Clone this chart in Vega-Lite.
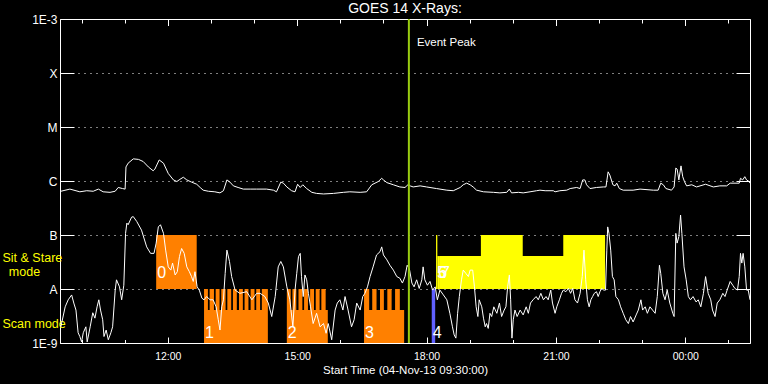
{
"$schema": "https://vega.github.io/schema/vega-lite/v6.json",
"width": 690, "height": 324,
"autosize": "none",
"padding": {"left": 60, "top": 19, "right": 18, "bottom": 41},
"background": "black",
"config": {
 "view": {"stroke": "white", "strokeWidth": 1},
 "font": "Liberation Sans",
 "axis": {"labelFont": "Liberation Sans", "titleFont": "Liberation Sans", "tickColor": "white", "labelColor": "white", "titleColor": "white", "domain": false, "grid": false, "tickWidth": 1, "labelFlush": false, "labelOverlap": false}
},
"title": {"text": "GOES 14 X-Rays:", "color": "white", "fontSize": 14, "fontWeight": "normal", "font": "Liberation Sans", "anchor": "middle", "baseline": "alphabetic", "offset": -14},
"datasets": {
 "event": [{"hour": 17.59, "label": "Event Peak"}],
 "boxes": [
  {"h0": 11.73, "h1": 12.67, "l0": -8, "l1": -7, "group": "g1", "label": "0", "mode": "sit"},
  {"h0": 12.84, "h1": 14.32, "l0": -9, "l1": -8.39, "group": "g1", "label": "1", "mode": "scan"},
  {"h0": 12.84, "h1": 12.93, "l0": -8.39, "l1": -8, "group": "g1"},
  {"h0": 12.97, "h1": 13.07, "l0": -8.39, "l1": -8, "group": "g1"},
  {"h0": 13.11, "h1": 13.2, "l0": -8.39, "l1": -8, "group": "g1"},
  {"h0": 13.24, "h1": 13.34, "l0": -8.39, "l1": -8, "group": "g1"},
  {"h0": 13.38, "h1": 13.47, "l0": -8.39, "l1": -8, "group": "g1"},
  {"h0": 13.51, "h1": 13.6, "l0": -8.39, "l1": -8, "group": "g1"},
  {"h0": 13.65, "h1": 13.74, "l0": -8.39, "l1": -8, "group": "g1"},
  {"h0": 13.78, "h1": 13.87, "l0": -8.39, "l1": -8, "group": "g1"},
  {"h0": 13.92, "h1": 14.01, "l0": -8.39, "l1": -8, "group": "g1"},
  {"h0": 14.05, "h1": 14.14, "l0": -8.39, "l1": -8, "group": "g1"},
  {"h0": 14.18, "h1": 14.32, "l0": -8.39, "l1": -8, "group": "g1"},
  {"h0": 14.76, "h1": 15.71, "l0": -9, "l1": -8.39, "group": "g1", "label": "2", "mode": "scan"},
  {"h0": 14.76, "h1": 14.85, "l0": -8.39, "l1": -8, "group": "g1"},
  {"h0": 14.89, "h1": 14.98, "l0": -8.39, "l1": -8, "group": "g1"},
  {"h0": 15.03, "h1": 15.12, "l0": -8.39, "l1": -8, "group": "g1"},
  {"h0": 15.16, "h1": 15.25, "l0": -8.39, "l1": -8, "group": "g1"},
  {"h0": 15.3, "h1": 15.39, "l0": -8.39, "l1": -8, "group": "g1"},
  {"h0": 15.43, "h1": 15.52, "l0": -8.39, "l1": -8, "group": "g1"},
  {"h0": 15.56, "h1": 15.66, "l0": -8.39, "l1": -8, "group": "g1"},
  {"h0": 16.55, "h1": 17.48, "l0": -9, "l1": -8.39, "group": "g1", "label": "3", "mode": "scan"},
  {"h0": 16.55, "h1": 16.67, "l0": -8.39, "l1": -8, "group": "g1"},
  {"h0": 16.74, "h1": 16.84, "l0": -8.39, "l1": -8, "group": "g1"},
  {"h0": 16.92, "h1": 17.01, "l0": -8.39, "l1": -8, "group": "g1"},
  {"h0": 17.09, "h1": 17.19, "l0": -8.39, "l1": -8, "group": "g1"},
  {"h0": 17.27, "h1": 17.38, "l0": -8.39, "l1": -8, "group": "g1"},
  {"h0": 18.12, "h1": 18.2, "l0": -9, "l1": -8, "group": "g2", "label": "4", "mode": "scan"},
  {"h0": 18.22, "h1": 18.25, "l0": -8, "l1": -7, "group": "g3", "label": "5", "mode": "sit"},
  {"h0": 18.25, "h1": 18.31, "l0": -8, "l1": -7.39, "group": "g3", "label": "6", "mode": "sit"},
  {"h0": 18.31, "h1": 22.14, "l0": -8, "l1": -7.39, "group": "g3", "label": "7", "mode": "sit"},
  {"h0": 19.26, "h1": 20.23, "l0": -7.39, "l1": -7, "group": "g3"},
  {"h0": 21.17, "h1": 22.14, "l0": -7.39, "l1": -7, "group": "g3"}
 ],
 "flux": [
  {"hour":9.52,"logflux":-6.19,"channel":"long"},{"hour":9.73,"logflux":-6.15,"channel":"long"},{"hour":9.96,"logflux":-6.2,"channel":"long"},{"hour":10.12,"logflux":-6.18,"channel":"long"},{"hour":10.27,"logflux":-6.19,"channel":"long"},{"hour":10.39,"logflux":-6.15,"channel":"long"},{"hour":10.5,"logflux":-6.2,"channel":"long"},{"hour":10.66,"logflux":-6.21,"channel":"long"},{"hour":10.78,"logflux":-6.19,"channel":"long"},{"hour":10.85,"logflux":-6.12,"channel":"long"},{"hour":10.95,"logflux":-6.14,"channel":"long"},{"hour":11.01,"logflux":-6.15,"channel":"long"},{"hour":11.03,"logflux":-5.74,"channel":"long"},{"hour":11.08,"logflux":-5.67,"channel":"long"},{"hour":11.2,"logflux":-5.59,"channel":"long"},{"hour":11.32,"logflux":-5.6,"channel":"long"},{"hour":11.43,"logflux":-5.64,"channel":"long"},{"hour":11.55,"logflux":-5.74,"channel":"long"},{"hour":11.66,"logflux":-5.81,"channel":"long"},{"hour":11.7,"logflux":-5.78,"channel":"long"},{"hour":11.8,"logflux":-5.61,"channel":"long"},{"hour":11.9,"logflux":-5.67,"channel":"long"},{"hour":12.01,"logflux":-5.86,"channel":"long"},{"hour":12.13,"logflux":-5.98,"channel":"long"},{"hour":12.21,"logflux":-6.01,"channel":"long"},{"hour":12.28,"logflux":-5.97,"channel":"long"},{"hour":12.36,"logflux":-5.93,"channel":"long"},{"hour":12.44,"logflux":-5.98,"channel":"long"},{"hour":12.55,"logflux":-6.02,"channel":"long"},{"hour":12.67,"logflux":-6.06,"channel":"long"},{"hour":12.75,"logflux":-6.12,"channel":"long"},{"hour":12.82,"logflux":-6.17,"channel":"long"},{"hour":12.94,"logflux":-6.19,"channel":"long"},{"hour":13.09,"logflux":-6.2,"channel":"long"},{"hour":13.21,"logflux":-6.22,"channel":"long"},{"hour":13.29,"logflux":-6.18,"channel":"long"},{"hour":13.37,"logflux":-5.98,"channel":"long"},{"hour":13.44,"logflux":-6.02,"channel":"long"},{"hour":13.52,"logflux":-6.09,"channel":"long"},{"hour":13.63,"logflux":-6.12,"channel":"long"},{"hour":13.75,"logflux":-6.15,"channel":"long"},{"hour":13.91,"logflux":-6.15,"channel":"long"},{"hour":14.06,"logflux":-6.15,"channel":"long"},{"hour":14.29,"logflux":-6.15,"channel":"long"},{"hour":14.45,"logflux":-6.17,"channel":"long"},{"hour":14.52,"logflux":-6.2,"channel":"long"},{"hour":14.62,"logflux":-6.02,"channel":"long"},{"hour":14.68,"logflux":-6.04,"channel":"long"},{"hour":14.76,"logflux":-6.11,"channel":"long"},{"hour":14.87,"logflux":-6.18,"channel":"long"},{"hour":14.95,"logflux":-6.2,"channel":"long"},{"hour":15.01,"logflux":-6.06,"channel":"long"},{"hour":15.07,"logflux":-6.12,"channel":"long"},{"hour":15.13,"logflux":-6.07,"channel":"long"},{"hour":15.22,"logflux":-6.14,"channel":"long"},{"hour":15.34,"logflux":-6.21,"channel":"long"},{"hour":15.45,"logflux":-6.23,"channel":"long"},{"hour":15.61,"logflux":-6.24,"channel":"long"},{"hour":15.84,"logflux":-6.23,"channel":"long"},{"hour":16.07,"logflux":-6.21,"channel":"long"},{"hour":16.22,"logflux":-6.2,"channel":"long"},{"hour":16.46,"logflux":-6.21,"channel":"long"},{"hour":16.61,"logflux":-6.2,"channel":"long"},{"hour":16.73,"logflux":-6.07,"channel":"long"},{"hour":16.88,"logflux":-6.01,"channel":"long"},{"hour":16.96,"logflux":-5.95,"channel":"long"},{"hour":17.0,"logflux":-5.98,"channel":"long"},{"hour":17.08,"logflux":-6.03,"channel":"long"},{"hour":17.23,"logflux":-6.07,"channel":"long"},{"hour":17.38,"logflux":-6.11,"channel":"long"},{"hour":17.5,"logflux":-6.12,"channel":"long"},{"hour":17.58,"logflux":-6.06,"channel":"long"},{"hour":17.62,"logflux":-6.09,"channel":"long"},{"hour":17.69,"logflux":-6.11,"channel":"long"},{"hour":17.85,"logflux":-6.09,"channel":"long"},{"hour":18.0,"logflux":-6.11,"channel":"long"},{"hour":18.23,"logflux":-6.14,"channel":"long"},{"hour":18.47,"logflux":-6.17,"channel":"long"},{"hour":18.62,"logflux":-6.18,"channel":"long"},{"hour":18.78,"logflux":-6.12,"channel":"long"},{"hour":18.85,"logflux":-6.07,"channel":"long"},{"hour":18.93,"logflux":-6.04,"channel":"long"},{"hour":19.01,"logflux":-6.07,"channel":"long"},{"hour":19.08,"logflux":-6.11,"channel":"long"},{"hour":19.16,"logflux":-6.17,"channel":"long"},{"hour":19.32,"logflux":-6.2,"channel":"long"},{"hour":19.55,"logflux":-6.21,"channel":"long"},{"hour":19.7,"logflux":-6.22,"channel":"long"},{"hour":19.86,"logflux":-6.21,"channel":"long"},{"hour":19.92,"logflux":-6.15,"channel":"long"},{"hour":19.97,"logflux":-6.22,"channel":"long"},{"hour":20.13,"logflux":-6.21,"channel":"long"},{"hour":20.24,"logflux":-6.22,"channel":"long"},{"hour":20.4,"logflux":-6.2,"channel":"long"},{"hour":20.55,"logflux":-6.18,"channel":"long"},{"hour":20.63,"logflux":-6.17,"channel":"long"},{"hour":20.75,"logflux":-6.18,"channel":"long"},{"hour":20.94,"logflux":-6.18,"channel":"long"},{"hour":20.98,"logflux":-6.2,"channel":"long"},{"hour":21.09,"logflux":-6.18,"channel":"long"},{"hour":21.25,"logflux":-6.17,"channel":"long"},{"hour":21.33,"logflux":-6.14,"channel":"long"},{"hour":21.48,"logflux":-6.12,"channel":"long"},{"hour":21.56,"logflux":-6.14,"channel":"long"},{"hour":21.62,"logflux":-5.98,"channel":"long"},{"hour":21.67,"logflux":-5.98,"channel":"long"},{"hour":21.71,"logflux":-6.07,"channel":"long"},{"hour":21.79,"logflux":-6.14,"channel":"long"},{"hour":21.94,"logflux":-6.12,"channel":"long"},{"hour":22.1,"logflux":-6.11,"channel":"long"},{"hour":22.16,"logflux":-6.11,"channel":"long"},{"hour":22.21,"logflux":-5.83,"channel":"long"},{"hour":22.25,"logflux":-5.89,"channel":"long"},{"hour":22.32,"logflux":-6.07,"channel":"long"},{"hour":22.37,"logflux":-6.09,"channel":"long"},{"hour":22.41,"logflux":-6.04,"channel":"long"},{"hour":22.47,"logflux":-6.14,"channel":"long"},{"hour":22.56,"logflux":-6.17,"channel":"long"},{"hour":22.79,"logflux":-6.17,"channel":"long"},{"hour":22.95,"logflux":-6.15,"channel":"long"},{"hour":23.26,"logflux":-6.17,"channel":"long"},{"hour":23.37,"logflux":-6.17,"channel":"long"},{"hour":23.43,"logflux":-6.04,"channel":"long"},{"hour":23.49,"logflux":-6.07,"channel":"long"},{"hour":23.55,"logflux":-6.14,"channel":"long"},{"hour":23.68,"logflux":-6.17,"channel":"long"},{"hour":23.74,"logflux":-6.11,"channel":"long"},{"hour":23.78,"logflux":-5.76,"channel":"long"},{"hour":23.81,"logflux":-5.78,"channel":"long"},{"hour":23.85,"logflux":-5.98,"channel":"long"},{"hour":23.9,"logflux":-5.72,"channel":"long"},{"hour":23.94,"logflux":-5.92,"channel":"long"},{"hour":23.98,"logflux":-6.01,"channel":"long"},{"hour":24.03,"logflux":-6.09,"channel":"long"},{"hour":24.15,"logflux":-6.07,"channel":"long"},{"hour":24.26,"logflux":-6.11,"channel":"long"},{"hour":24.47,"logflux":-6.06,"channel":"long"},{"hour":24.65,"logflux":-6.11,"channel":"long"},{"hour":24.8,"logflux":-6.09,"channel":"long"},{"hour":24.96,"logflux":-6.09,"channel":"long"},{"hour":25.04,"logflux":-6.04,"channel":"long"},{"hour":25.25,"logflux":-6.04,"channel":"long"},{"hour":25.28,"logflux":-5.95,"channel":"long"},{"hour":25.33,"logflux":-5.98,"channel":"long"},{"hour":25.38,"logflux":-5.92,"channel":"long"},{"hour":25.42,"logflux":-5.98,"channel":"long"},{"hour":25.48,"logflux":-6.01,"channel":"long"},{"hour":25.5,"logflux":-6.04,"channel":"long"},
  {"hour":9.52,"logflux":-8.7,"channel":"short"},{"hour":9.62,"logflux":-8.33,"channel":"short"},{"hour":9.69,"logflux":-8.2,"channel":"short"},{"hour":9.77,"logflux":-8.11,"channel":"short"},{"hour":9.82,"logflux":-8.26,"channel":"short"},{"hour":9.87,"logflux":-8.39,"channel":"short"},{"hour":9.92,"logflux":-8.81,"channel":"short"},{"hour":9.96,"logflux":-8.88,"channel":"short"},{"hour":10.0,"logflux":-8.98,"channel":"short"},{"hour":10.04,"logflux":-8.81,"channel":"short"},{"hour":10.1,"logflux":-8.7,"channel":"short"},{"hour":10.13,"logflux":-8.98,"channel":"short"},{"hour":10.2,"logflux":-8.7,"channel":"short"},{"hour":10.26,"logflux":-8.44,"channel":"short"},{"hour":10.31,"logflux":-8.54,"channel":"short"},{"hour":10.36,"logflux":-8.33,"channel":"short"},{"hour":10.4,"logflux":-8.2,"channel":"short"},{"hour":10.44,"logflux":-8.39,"channel":"short"},{"hour":10.49,"logflux":-8.57,"channel":"short"},{"hour":10.52,"logflux":-8.88,"channel":"short"},{"hour":10.57,"logflux":-8.76,"channel":"short"},{"hour":10.62,"logflux":-8.94,"channel":"short"},{"hour":10.68,"logflux":-8.81,"channel":"short"},{"hour":10.72,"logflux":-8.7,"channel":"short"},{"hour":10.78,"logflux":-8.02,"channel":"short"},{"hour":10.81,"logflux":-7.83,"channel":"short"},{"hour":10.88,"logflux":-7.96,"channel":"short"},{"hour":10.93,"logflux":-8.2,"channel":"short"},{"hour":10.98,"logflux":-7.93,"channel":"short"},{"hour":11.02,"logflux":-6.97,"channel":"short"},{"hour":11.05,"logflux":-6.78,"channel":"short"},{"hour":11.08,"logflux":-6.81,"channel":"short"},{"hour":11.16,"logflux":-6.67,"channel":"short"},{"hour":11.2,"logflux":-6.66,"channel":"short"},{"hour":11.28,"logflux":-6.75,"channel":"short"},{"hour":11.39,"logflux":-6.91,"channel":"short"},{"hour":11.51,"logflux":-7.22,"channel":"short"},{"hour":11.6,"logflux":-7.34,"channel":"short"},{"hour":11.68,"logflux":-7.34,"channel":"short"},{"hour":11.73,"logflux":-7.15,"channel":"short"},{"hour":11.78,"logflux":-6.85,"channel":"short"},{"hour":11.83,"logflux":-6.81,"channel":"short"},{"hour":11.9,"logflux":-6.97,"channel":"short"},{"hour":11.95,"logflux":-7.28,"channel":"short"},{"hour":12.01,"logflux":-7.59,"channel":"short"},{"hour":12.07,"logflux":-7.65,"channel":"short"},{"hour":12.11,"logflux":-7.52,"channel":"short"},{"hour":12.17,"logflux":-7.74,"channel":"short"},{"hour":12.22,"logflux":-7.68,"channel":"short"},{"hour":12.27,"logflux":-7.4,"channel":"short"},{"hour":12.32,"logflux":-7.25,"channel":"short"},{"hour":12.38,"logflux":-7.34,"channel":"short"},{"hour":12.44,"logflux":-7.59,"channel":"short"},{"hour":12.5,"logflux":-7.68,"channel":"short"},{"hour":12.55,"logflux":-7.77,"channel":"short"},{"hour":12.59,"logflux":-7.86,"channel":"short"},{"hour":12.63,"logflux":-7.68,"channel":"short"},{"hour":12.68,"logflux":-7.96,"channel":"short"},{"hour":12.73,"logflux":-8.02,"channel":"short"},{"hour":12.79,"logflux":-8.17,"channel":"short"},{"hour":12.84,"logflux":-8.2,"channel":"short"},{"hour":12.9,"logflux":-8.14,"channel":"short"},{"hour":12.98,"logflux":-8.2,"channel":"short"},{"hour":13.05,"logflux":-8.2,"channel":"short"},{"hour":13.12,"logflux":-8.33,"channel":"short"},{"hour":13.17,"logflux":-8.57,"channel":"short"},{"hour":13.21,"logflux":-8.76,"channel":"short"},{"hour":13.25,"logflux":-8.33,"channel":"short"},{"hour":13.29,"logflux":-8.2,"channel":"short"},{"hour":13.33,"logflux":-7.71,"channel":"short"},{"hour":13.37,"logflux":-7.28,"channel":"short"},{"hour":13.43,"logflux":-7.49,"channel":"short"},{"hour":13.48,"logflux":-7.77,"channel":"short"},{"hour":13.56,"logflux":-8.02,"channel":"short"},{"hour":13.67,"logflux":-8.08,"channel":"short"},{"hour":13.83,"logflux":-8.05,"channel":"short"},{"hour":13.95,"logflux":-8.2,"channel":"short"},{"hour":14.06,"logflux":-8.08,"channel":"short"},{"hour":14.14,"logflux":-8.08,"channel":"short"},{"hour":14.25,"logflux":-8.14,"channel":"short"},{"hour":14.33,"logflux":-8.26,"channel":"short"},{"hour":14.41,"logflux":-8.51,"channel":"short"},{"hour":14.49,"logflux":-8.14,"channel":"short"},{"hour":14.56,"logflux":-7.59,"channel":"short"},{"hour":14.62,"logflux":-7.49,"channel":"short"},{"hour":14.68,"logflux":-7.59,"channel":"short"},{"hour":14.76,"logflux":-7.96,"channel":"short"},{"hour":14.83,"logflux":-8.2,"channel":"short"},{"hour":14.9,"logflux":-8.7,"channel":"short"},{"hour":14.95,"logflux":-8.02,"channel":"short"},{"hour":14.99,"logflux":-7.71,"channel":"short"},{"hour":15.03,"logflux":-7.4,"channel":"short"},{"hour":15.07,"logflux":-7.34,"channel":"short"},{"hour":15.1,"logflux":-7.77,"channel":"short"},{"hour":15.14,"logflux":-8.14,"channel":"short"},{"hour":15.18,"logflux":-7.74,"channel":"short"},{"hour":15.22,"logflux":-7.83,"channel":"short"},{"hour":15.26,"logflux":-8.08,"channel":"short"},{"hour":15.31,"logflux":-8.33,"channel":"short"},{"hour":15.37,"logflux":-8.64,"channel":"short"},{"hour":15.45,"logflux":-8.45,"channel":"short"},{"hour":15.53,"logflux":-8.7,"channel":"short"},{"hour":15.61,"logflux":-8.64,"channel":"short"},{"hour":15.67,"logflux":-8.82,"channel":"short"},{"hour":15.72,"logflux":-8.64,"channel":"short"},{"hour":15.8,"logflux":-8.94,"channel":"short"},{"hour":15.88,"logflux":-8.39,"channel":"short"},{"hour":15.93,"logflux":-8.26,"channel":"short"},{"hour":15.99,"logflux":-8.2,"channel":"short"},{"hour":16.06,"logflux":-8.39,"channel":"short"},{"hour":16.11,"logflux":-8.14,"channel":"short"},{"hour":16.18,"logflux":-8.39,"channel":"short"},{"hour":16.26,"logflux":-8.7,"channel":"short"},{"hour":16.32,"logflux":-8.57,"channel":"short"},{"hour":16.38,"logflux":-8.26,"channel":"short"},{"hour":16.46,"logflux":-8.39,"channel":"short"},{"hour":16.52,"logflux":-8.14,"channel":"short"},{"hour":16.57,"logflux":-8.08,"channel":"short"},{"hour":16.63,"logflux":-7.96,"channel":"short"},{"hour":16.69,"logflux":-7.77,"channel":"short"},{"hour":16.76,"logflux":-7.59,"channel":"short"},{"hour":16.84,"logflux":-7.37,"channel":"short"},{"hour":16.92,"logflux":-7.31,"channel":"short"},{"hour":16.96,"logflux":-7.22,"channel":"short"},{"hour":17.0,"logflux":-7.37,"channel":"short"},{"hour":17.08,"logflux":-7.46,"channel":"short"},{"hour":17.15,"logflux":-7.56,"channel":"short"},{"hour":17.23,"logflux":-7.65,"channel":"short"},{"hour":17.31,"logflux":-7.77,"channel":"short"},{"hour":17.38,"logflux":-7.8,"channel":"short"},{"hour":17.44,"logflux":-7.89,"channel":"short"},{"hour":17.5,"logflux":-7.77,"channel":"short"},{"hour":17.55,"logflux":-7.56,"channel":"short"},{"hour":17.6,"logflux":-7.62,"channel":"short"},{"hour":17.66,"logflux":-7.89,"channel":"short"},{"hour":17.71,"logflux":-7.96,"channel":"short"},{"hour":17.77,"logflux":-7.83,"channel":"short"},{"hour":17.83,"logflux":-7.99,"channel":"short"},{"hour":17.89,"logflux":-7.83,"channel":"short"},{"hour":17.92,"logflux":-7.59,"channel":"short"},{"hour":17.96,"logflux":-7.83,"channel":"short"},{"hour":18.02,"logflux":-7.93,"channel":"short"},{"hour":18.08,"logflux":-7.86,"channel":"short"},{"hour":18.14,"logflux":-8.02,"channel":"short"},{"hour":18.2,"logflux":-7.96,"channel":"short"},{"hour":18.25,"logflux":-8.2,"channel":"short"},{"hour":18.31,"logflux":-8.02,"channel":"short"},{"hour":18.39,"logflux":-8.11,"channel":"short"},{"hour":18.47,"logflux":-8.2,"channel":"short"},{"hour":18.54,"logflux":-8.45,"channel":"short"},{"hour":18.6,"logflux":-8.7,"channel":"short"},{"hour":18.64,"logflux":-8.85,"channel":"short"},{"hour":18.68,"logflux":-8.91,"channel":"short"},{"hour":18.72,"logflux":-8.45,"channel":"short"},{"hour":18.76,"logflux":-8.14,"channel":"short"},{"hour":18.81,"logflux":-7.83,"channel":"short"},{"hour":18.85,"logflux":-7.65,"channel":"short"},{"hour":18.91,"logflux":-7.71,"channel":"short"},{"hour":18.97,"logflux":-7.77,"channel":"short"},{"hour":19.01,"logflux":-7.65,"channel":"short"},{"hour":19.07,"logflux":-7.65,"channel":"short"},{"hour":19.11,"logflux":-7.96,"channel":"short"},{"hour":19.15,"logflux":-8.33,"channel":"short"},{"hour":19.19,"logflux":-8.51,"channel":"short"},{"hour":19.22,"logflux":-8.2,"channel":"short"},{"hour":19.28,"logflux":-8.33,"channel":"short"},{"hour":19.32,"logflux":-8.54,"channel":"short"},{"hour":19.36,"logflux":-8.7,"channel":"short"},{"hour":19.39,"logflux":-8.64,"channel":"short"},{"hour":19.43,"logflux":-8.73,"channel":"short"},{"hour":19.47,"logflux":-8.45,"channel":"short"},{"hour":19.51,"logflux":-8.51,"channel":"short"},{"hour":19.56,"logflux":-8.33,"channel":"short"},{"hour":19.63,"logflux":-8.45,"channel":"short"},{"hour":19.69,"logflux":-8.26,"channel":"short"},{"hour":19.74,"logflux":-8.51,"channel":"short"},{"hour":19.8,"logflux":-8.39,"channel":"short"},{"hour":19.84,"logflux":-8.33,"channel":"short"},{"hour":19.88,"logflux":-7.96,"channel":"short"},{"hour":19.92,"logflux":-7.74,"channel":"short"},{"hour":19.95,"logflux":-8.2,"channel":"short"},{"hour":19.98,"logflux":-8.91,"channel":"short"},{"hour":20.01,"logflux":-8.57,"channel":"short"},{"hour":20.05,"logflux":-8.39,"channel":"short"},{"hour":20.1,"logflux":-8.51,"channel":"short"},{"hour":20.17,"logflux":-8.39,"channel":"short"},{"hour":20.24,"logflux":-8.48,"channel":"short"},{"hour":20.31,"logflux":-8.33,"channel":"short"},{"hour":20.36,"logflux":-8.45,"channel":"short"},{"hour":20.41,"logflux":-8.26,"channel":"short"},{"hour":20.47,"logflux":-8.2,"channel":"short"},{"hour":20.54,"logflux":-8.14,"channel":"short"},{"hour":20.59,"logflux":-8.2,"channel":"short"},{"hour":20.65,"logflux":-8.08,"channel":"short"},{"hour":20.71,"logflux":-8.2,"channel":"short"},{"hour":20.77,"logflux":-8.14,"channel":"short"},{"hour":20.82,"logflux":-8.2,"channel":"short"},{"hour":20.88,"logflux":-8.02,"channel":"short"},{"hour":20.92,"logflux":-8.26,"channel":"short"},{"hour":20.98,"logflux":-8.45,"channel":"short"},{"hour":21.02,"logflux":-8.33,"channel":"short"},{"hour":21.08,"logflux":-8.2,"channel":"short"},{"hour":21.13,"logflux":-8.08,"channel":"short"},{"hour":21.17,"logflux":-8.02,"channel":"short"},{"hour":21.23,"logflux":-8.05,"channel":"short"},{"hour":21.29,"logflux":-7.99,"channel":"short"},{"hour":21.34,"logflux":-8.08,"channel":"short"},{"hour":21.39,"logflux":-7.99,"channel":"short"},{"hour":21.44,"logflux":-8.2,"channel":"short"},{"hour":21.5,"logflux":-8.26,"channel":"short"},{"hour":21.56,"logflux":-8.08,"channel":"short"},{"hour":21.61,"logflux":-7.77,"channel":"short"},{"hour":21.65,"logflux":-7.28,"channel":"short"},{"hour":21.69,"logflux":-7.83,"channel":"short"},{"hour":21.73,"logflux":-8.2,"channel":"short"},{"hour":21.77,"logflux":-8.33,"channel":"short"},{"hour":21.81,"logflux":-8.2,"channel":"short"},{"hour":21.85,"logflux":-8.14,"channel":"short"},{"hour":21.89,"logflux":-8.08,"channel":"short"},{"hour":21.94,"logflux":-8.05,"channel":"short"},{"hour":21.98,"logflux":-8.14,"channel":"short"},{"hour":22.02,"logflux":-8.05,"channel":"short"},{"hour":22.06,"logflux":-7.99,"channel":"short"},{"hour":22.11,"logflux":-8.02,"channel":"short"},{"hour":22.15,"logflux":-8.02,"channel":"short"},{"hour":22.18,"logflux":-7.28,"channel":"short"},{"hour":22.2,"logflux":-6.85,"channel":"short"},{"hour":22.23,"logflux":-6.97,"channel":"short"},{"hour":22.27,"logflux":-7.28,"channel":"short"},{"hour":22.31,"logflux":-7.77,"channel":"short"},{"hour":22.35,"logflux":-7.83,"channel":"short"},{"hour":22.39,"logflux":-8.14,"channel":"short"},{"hour":22.45,"logflux":-8.2,"channel":"short"},{"hour":22.5,"logflux":-8.33,"channel":"short"},{"hour":22.56,"logflux":-8.45,"channel":"short"},{"hour":22.62,"logflux":-8.57,"channel":"short"},{"hour":22.68,"logflux":-8.64,"channel":"short"},{"hour":22.73,"logflux":-8.51,"channel":"short"},{"hour":22.79,"logflux":-8.61,"channel":"short"},{"hour":22.86,"logflux":-8.48,"channel":"short"},{"hour":22.91,"logflux":-8.39,"channel":"short"},{"hour":22.97,"logflux":-8.2,"channel":"short"},{"hour":23.01,"logflux":-8.39,"channel":"short"},{"hour":23.07,"logflux":-8.33,"channel":"short"},{"hour":23.12,"logflux":-8.45,"channel":"short"},{"hour":23.18,"logflux":-8.33,"channel":"short"},{"hour":23.24,"logflux":-8.39,"channel":"short"},{"hour":23.3,"logflux":-8.45,"channel":"short"},{"hour":23.35,"logflux":-8.14,"channel":"short"},{"hour":23.4,"logflux":-7.56,"channel":"short"},{"hour":23.43,"logflux":-7.71,"channel":"short"},{"hour":23.48,"logflux":-8.08,"channel":"short"},{"hour":23.53,"logflux":-8.2,"channel":"short"},{"hour":23.58,"logflux":-8.02,"channel":"short"},{"hour":23.64,"logflux":-8.26,"channel":"short"},{"hour":23.71,"logflux":-8.45,"channel":"short"},{"hour":23.74,"logflux":-8.51,"channel":"short"},{"hour":23.78,"logflux":-6.97,"channel":"short"},{"hour":23.81,"logflux":-7.15,"channel":"short"},{"hour":23.85,"logflux":-7.03,"channel":"short"},{"hour":23.89,"logflux":-6.63,"channel":"short"},{"hour":23.92,"logflux":-6.97,"channel":"short"},{"hour":23.97,"logflux":-7.59,"channel":"short"},{"hour":24.02,"logflux":-7.83,"channel":"short"},{"hour":24.07,"logflux":-8.14,"channel":"short"},{"hour":24.12,"logflux":-8.2,"channel":"short"},{"hour":24.18,"logflux":-8.14,"channel":"short"},{"hour":24.25,"logflux":-8.24,"channel":"short"},{"hour":24.3,"logflux":-8.2,"channel":"short"},{"hour":24.36,"logflux":-8.33,"channel":"short"},{"hour":24.42,"logflux":-8.08,"channel":"short"},{"hour":24.47,"logflux":-7.77,"channel":"short"},{"hour":24.53,"logflux":-8.08,"channel":"short"},{"hour":24.59,"logflux":-8.2,"channel":"short"},{"hour":24.63,"logflux":-8.39,"channel":"short"},{"hour":24.69,"logflux":-8.51,"channel":"short"},{"hour":24.74,"logflux":-8.26,"channel":"short"},{"hour":24.8,"logflux":-8.2,"channel":"short"},{"hour":24.87,"logflux":-8.08,"channel":"short"},{"hour":24.92,"logflux":-8.14,"channel":"short"},{"hour":24.97,"logflux":-8.02,"channel":"short"},{"hour":25.04,"logflux":-7.86,"channel":"short"},{"hour":25.1,"logflux":-7.93,"channel":"short"},{"hour":25.15,"logflux":-7.99,"channel":"short"},{"hour":25.21,"logflux":-8.02,"channel":"short"},{"hour":25.25,"logflux":-7.77,"channel":"short"},{"hour":25.28,"logflux":-7.34,"channel":"short"},{"hour":25.31,"logflux":-7.52,"channel":"short"},{"hour":25.34,"logflux":-7.34,"channel":"short"},{"hour":25.38,"logflux":-7.59,"channel":"short"},{"hour":25.42,"logflux":-8.02,"channel":"short"},{"hour":25.46,"logflux":-8.02,"channel":"short"},{"hour":25.5,"logflux":-8.2,"channel":"short"}
 ]
},
"layer": [
 {
  "data": {"name": "boxes"},
  "mark": {"type": "rect"},
  "encoding": {
   "x": {"field": "h0", "type": "quantitative", "scale": {"domain": [9.5, 25.5], "nice": false, "zero": false},
         "axis": {"orient": "bottom", "values": [12, 15, 18, 21, 24], "labelExpr": "(datum.value % 24 < 10 ? '0' : '') + (datum.value % 24) + ':00'", "tickSize": -6, "labelPadding": 14, "labelFontSize": 10.5, "title": "Start Time (04-Nov-13 09:30:00)", "titleFontSize": 11.5, "titleFontWeight": "normal", "titlePadding": 3}},
   "x2": {"field": "h1"},
   "y": {"field": "l0", "type": "quantitative", "scale": {"domain": [-9, -3], "nice": false, "zero": false},
         "axis": {"orient": "left", "values": [-9, -8, -7, -6, -5, -4, -3], "labelExpr": "datum.value == -9 ? '1E-9' : datum.value == -8 ? 'A' : datum.value == -7 ? 'B' : datum.value == -6 ? 'C' : datum.value == -5 ? 'M' : datum.value == -4 ? 'X' : '1E-3'", "tickSize": -14, "labelPadding": 17, "labelFontSize": 12, "grid": true, "gridColor": "white", "gridDash": [1, 5], "gridOpacity": 1, "title": null}},
   "y2": {"field": "l1"},
   "color": {"field": "group", "type": "nominal", "scale": {"domain": ["g1", "g2", "g3"], "range": ["#ff8000", "#6060ff", "#ffff00"]}, "legend": null}
  }
 },
 {
  "data": {"name": "flux"},
  "mark": {"type": "line", "color": "white", "strokeWidth": 1, "clip": true},
  "encoding": {
   "x": {"field": "hour", "type": "quantitative", "axis": {"orient": "bottom", "values": [10,11,12,13,14,15,16,17,18,19,20,21,22,23,24,25], "tickSize": -3.5, "labels": false, "title": null}},
   "y": {"field": "logflux", "type": "quantitative", "axis": {"orient": "right", "values": [-9, -8, -7, -6, -5, -4, -3], "tickSize": -14, "labels": false, "title": null}},
   "detail": {"field": "channel"}
  }
 },
 {
  "data": {"name": "event"},
  "mark": {"type": "rule", "color": "#99cc11", "strokeWidth": 2},
  "encoding": {
   "x": {"field": "hour", "type": "quantitative", "axis": {"orient": "top", "values": [12, 15, 18, 21, 24], "tickSize": -6.5, "labels": false, "title": null}}
  }
 },
 {
  "data": {"name": "event"},
  "mark": {"type": "text", "align": "left", "baseline": "middle", "dx": 8, "color": "white", "fontSize": 11.5, "font": "Liberation Sans"},
  "encoding": {
   "x": {"field": "hour", "type": "quantitative", "axis": {"orient": "top", "values": [10,11,12,13,14,15,16,17,18,19,20,21,22,23,24,25], "tickSize": -4, "labels": false, "title": null}},
   "y": {"datum": -3.44, "type": "quantitative", "axis": {"orient": "left", "values": [-7.41, -8.648], "ticks": false, "labelExpr": "datum.value > -8 ? 'Sit & Stare' : 'Scan mode'", "labelAlign": "left", "labelPadding": 58, "labelColor": "#ffff00", "labelFontSize": 12.5, "title": null, "grid": false}},
   "text": {"field": "label"}
  }
 },
 {
  "data": {"name": "boxes"},
  "transform": [{"filter": "datum.label && datum.mode == 'sit'"}],
  "mark": {"type": "text", "align": "left", "baseline": "alphabetic", "dx": 1, "color": "white", "fontSize": 16, "font": "Liberation Sans"},
  "encoding": {
   "x": {"field": "h0", "type": "quantitative", "axis": null},
   "y": {"datum": -7.8, "type": "quantitative", "axis": {"orient": "left", "values": [-7.667], "ticks": false, "labelExpr": "'mode'", "labelAlign": "center", "labelPadding": 36, "labelColor": "#ffff00", "labelFontSize": 12.5, "title": null, "grid": false}},
   "text": {"field": "label"}
  }
 },
 {
  "data": {"name": "boxes"},
  "transform": [{"filter": "datum.label && datum.mode == 'scan'"}],
  "mark": {"type": "text", "align": "left", "baseline": "alphabetic", "dx": 1, "color": "white", "fontSize": 16, "font": "Liberation Sans"},
  "encoding": {
   "x": {"field": "h0", "type": "quantitative", "axis": null},
   "y": {"datum": -8.91, "type": "quantitative", "axis": null},
   "text": {"field": "label"}
  }
 }
],
"resolve": {"axis": {"x": "independent", "y": "independent"}}
}
